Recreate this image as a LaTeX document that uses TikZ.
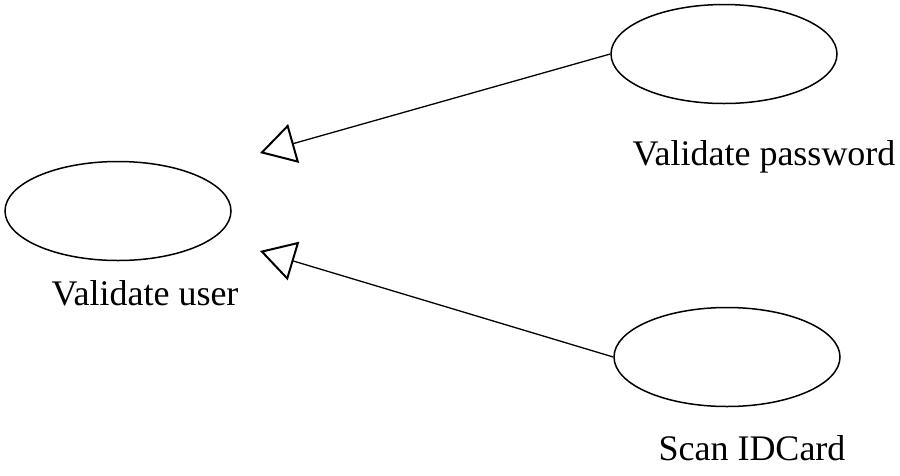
\documentclass[tikz,border=0pt]{standalone}
\usepackage{fontspec}
\setmainfont{Liberation Serif}
\usetikzlibrary{shapes.geometric,arrows.meta}
\tikzset{
  usecase/.style={draw=black, line width=1.5pt, ellipse, minimum width=226pt, minimum height=99pt, inner sep=0pt},
  uclabel/.style={anchor=base, inner sep=0pt, font=\fontsize{36}{42}\selectfont},
  gen/.style={draw=black, line width=1.3pt, -{Triangle[open, length=35pt, width=40pt, line width=2pt]}}
}
\begin{document}
\begin{tikzpicture}[x=1pt, y=-1pt]
\useasboundingbox (0,0) rectangle (900,475);
\node[usecase] (vu) at (118,211) {};
\node[usecase] (vp) at (724,54) {};
\node[usecase] (sc) at (727,357) {};
\node[uclabel] (lvu) at (145,305) {Validate user};
\node[uclabel] (lvp) at (764,165) {Validate password};
\node[uclabel] (lsc) at (752,460) {Scan IDCard};
\coordinate (t1) at (260,153);
\coordinate (t2) at (260,251);
\draw[gen] (vp.west) -- (t1);
\draw[gen] (sc.west) -- (t2);
\end{tikzpicture}
\end{document}
